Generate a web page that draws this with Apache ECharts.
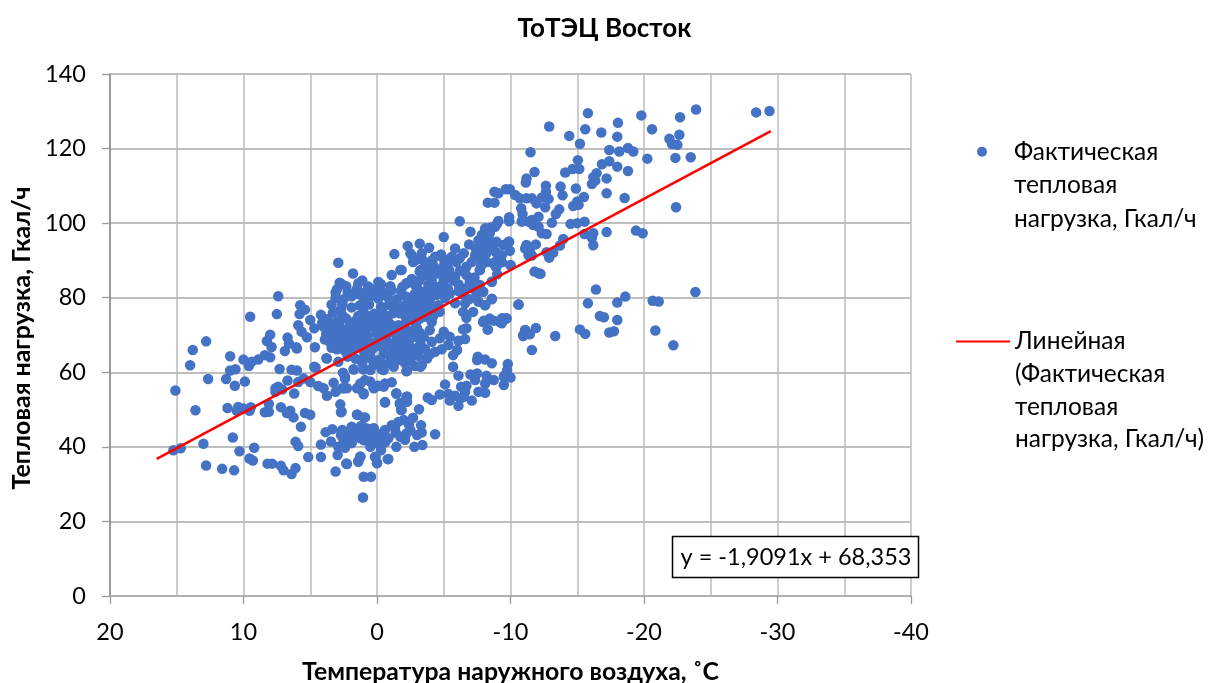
<!DOCTYPE html>
<html><head><meta charset="utf-8">
<script src="https://cdn.jsdelivr.net/npm/echarts@6/dist/echarts.min.js"></script>
<style>html,body{margin:0;padding:0;background:#fff}#c{width:1208px;height:683px}</style>
</head><body><div id="c"></div>
<script>
const chartTitle = 'ТоТЭЦ Восток';
const xAxisName = 'Температура наружного воздуха, ˚C';
const yAxisName = 'Тепловая нагрузка, Гкал/ч';
const seriesName = 'Фактическая\nтепловая\nнагрузка, Гкал/ч';
const trendName = 'Линейная\n(Фактическая\nтепловая\nнагрузка, Гкал/ч)';
const equation = 'y = -1,9091x + 68,353';
const trendPoints = [[16.5,36.8],[-29.5,124.7]];
const pointsWarm = [[7.4,80.4],[7.5,75.6],[9.5,74.9],[5.75,78],[5.4,76.8],[5.8,75.6],[4.2,75.4],[5,74],[5.9,72.6],[8,70.1],[8.25,68.4],[7.9,66.8],[6.7,69.3],[6.6,67.7],[6.9,65.7],[6,66.4],[12.8,68.3],[13.8,66],[14,61.9],[11,64.3],[10,63.4],[9.6,61.7],[9.4,62.8],[8.9,63.4],[8.4,64.6],[8,64],[11,60.5],[10.6,60.8],[7.3,60.9],[6.4,60.7],[6,60.5],[4.6,61.3],[3.75,63.7],[12.65,58.2],[11.3,58.2],[10.65,56.4],[9.9,57.5],[15.1,55.1],[13.6,49.8],[11.2,50.4],[10.4,50.7],[10.5,49.7],[10,50.3],[9.55,49.7],[9.45,50.6],[8.4,49.3],[8.1,51.5],[8.1,49.4],[7.6,55.7],[7.4,56.1],[7.6,54.8],[7.1,55.4],[6.7,57.8],[6.2,54.3],[5.9,57.4],[5.5,58.3],[5,57.4],[4.4,56.3],[4,55.7],[3.75,53.7],[3.25,57.2],[3.1,54.8],[2.55,59.9],[2.4,58.3],[2.6,55.7],[2.25,55.7],[1.75,60.75],[1,60.75],[0.5,60.75],[1,54.1],[1.4,55.9],[0.9,57.9],[0.1,56.1],[7.2,50.65],[6.5,49.7],[6.75,49.1],[6.25,47.9],[5.4,49.1],[5,48.6],[5.7,45.4],[2.75,51.4],[2.7,49.3],[1.5,48.7],[0.9,47.9],[3.85,43.95],[3.35,44.7],[3.45,41.45],[4.2,40.6],[6.1,41.4],[5.9,40.2],[10.8,42.5],[13,40.8],[15.25,39.1],[14.7,39.6],[9.2,39.75],[10.3,38.8],[9.55,36.9],[9.3,36.35],[12.8,35],[11.6,34.1],[10.7,33.7],[8.2,35.5],[7.85,35.5],[7.2,34.9],[7,33.7],[6.4,32.7],[6.1,34.3],[5.15,37.25],[4.2,37.3],[2.95,37.8],[2.3,35.55],[3.1,33.4],[1.4,36.2],[1.25,37.3],[1,32],[0.45,32],[1.05,26.4],[2.7,43.1],[2.6,44.5],[2.1,43.6],[1.75,42.7],[1.25,43.6],[0.75,44.9],[0.25,44.9],[2.9,40],[2.4,39.75],[1.9,41.4],[1,41.8],[0.5,40],[0.1,37.3],[0,35.7],[2.9,89.4],[1.8,86.5],[2.65,83.7],[3.1,81.4],[1.4,83.9],[0.65,83],[4.7,71.8],[5.65,70.9],[5.25,69.4],[6.05,66.7],[4.65,66.7],[3.8,63.75],[4.7,61.5]];
const pointsCluster = [[3,82.3],[2.2,81.6],[1.5,82.4],[0.8,81.7],[0.2,82.2],[-0.4,81.5],[-1.1,82],[-1.8,81.8],[3.1,80],[2.5,79.6],[1.9,80.4],[1,79.7],[0.5,80.3],[-0.1,79.8],[-0.8,80.2],[-1.5,79.6],[-2.4,78.6],[-3,79],[2.6,78.3],[1.3,77.9],[0.6,78.2],[-0.3,77.6],[-0.9,78.1],[-1.4,77.5],[-2.1,78],[-2.7,76.6],[-3.2,77.4],[3.3,76],[1,76.2],[0.2,75.7],[-0.4,76.3],[-1.2,75.8],[-2,75.6],[-2.9,75.4],[3.7,74.2],[3,73.6],[2.3,74.4],[1.6,73.8],[0.9,74.1],[0.3,73.5],[-0.3,74.3],[-0.8,73.7],[-1.6,72.6],[-2.2,74],[-2.9,73.2],[4,72.2],[3.5,71.6],[2.8,72.4],[2.1,71.8],[1.5,72.3],[0.8,71.6],[0.2,72],[-0.6,71.5],[-1.2,71.9],[-2.4,71.2],[3.8,70.2],[3.2,69.7],[2.6,70.3],[2,69.6],[1.3,70.1],[0.7,69.8],[0,70.2],[-0.7,69.6],[-1.5,70.1],[-2.7,69.8],[-3.2,70.6],[3.5,68],[2.9,68.4],[2.2,67.7],[1.5,66.9],[0.9,68.2],[0.3,67.8],[-0.3,68.3],[-1,67.4],[-2,67.9],[3,66.2],[2.4,65.7],[1.8,66.2],[1,65.8],[0.4,66.1],[-0.5,66.3],[-1.5,66.1],[-2.8,65.5],[2.2,64.2],[1.6,63.6],[0.5,64.4],[-0.1,63.2],[-1.1,86.1],[-1.75,87.4],[-1.3,91.7],[-2.5,91.9],[-2.9,90.1],[-3.25,87.4],[-2.2,83.9],[-0.3,83.6],[-1,83.1],[3.4,78.2],[4.1,73.3],[3.4,66.6],[2.9,62.8],[1.1,62.5],[0.2,62.1],[-1.85,68.6],[-1.5,69.5],[-1,67.7],[-0.5,68.2],[-4.1,68.2],[-2.75,66.4],[-2.35,65.95],[-3.25,67.7],[-4.35,65.5],[-4.85,66.2],[-5.35,67.3],[-6.1,68.45],[-6.6,68.9],[-6,66],[-5.7,64.6],[-1.25,65.05],[-0.5,65.05],[-1.75,65.05],[-1,64.15],[-1.6,63.3],[-0.25,63.3],[-1,62.4],[-2.5,63.2],[-3.75,63.7],[-2.85,61.7],[-3.35,61.9],[-0.5,60.6],[-1.25,61.5],[-2.2,60.3],[0.5,60.6],[-5.7,61.5]];
const pointsEast = [[-5,96.3],[-7,97.7],[-6.2,100.5],[-2.3,93.9],[-3.2,94.5],[-3.9,93.4],[-3.35,91.9],[-2.6,91.4],[-2.7,89.6],[-4.35,91],[-4.8,91.6],[-5.85,93.2],[-6.9,94.3],[-6.5,91.9],[-7.35,91.4],[-7.6,95.4],[-8.1,98.1],[-8.5,98.8],[-9,99.9],[-9.9,100.5],[-10.85,100.4],[-11.35,100.4],[-7.85,96.8],[-8.35,96.3],[-8.95,95],[-9.9,95],[-9.35,91.4],[-8.45,93.2],[-11.1,93.2],[-11.35,91.4],[-8.85,89.6],[-8.95,88.3],[-10,88.7],[-7.7,87.4],[-7.1,89.6],[-6.7,88.3],[-5.95,89.6],[-5.35,89.6],[-4.95,88.3],[-4.2,88.7],[-3.6,88.7],[-3.2,87],[-3.85,86.5],[-4.6,86.5],[-5.2,86.05],[-5.85,85.6],[-6.7,86.05],[-6.95,84.3],[-7.7,83.4],[-8.6,84.3],[-6.6,82.5],[-5.45,81.1],[-7.45,81.1],[-7.95,81.6],[-8.6,79.6],[-4.95,83.8],[-4.45,82.9],[-3.85,83.4],[-3.2,84.7],[-2.85,83.4],[-2.2,83.8],[-1.85,87.4],[-3.45,81.6],[-2.85,81.1],[-2.2,80.25],[-3.95,79.35],[-4.45,80.7],[-4.6,78],[-3.45,78.5],[-2.7,77.6],[-2.1,77.1],[-1.7,75.8],[-2.35,74.9],[-3.2,74.4],[-4.7,76.2],[-5.85,78.5],[-6.6,78.5],[-6.45,76.2],[-7.2,76.2],[-6.7,74.6],[-8.1,78],[-10.6,78.2],[-7.95,73.5],[-8.45,74.4],[-9.2,73.5],[-9.7,74.4],[-9.35,74.4],[-8.3,71.5],[-4.1,73.5],[-3.95,71.3],[-6.45,71.5],[-6.7,71.8],[-5,70.9],[-2.8,69.5],[-3.5,69.5],[-4.7,69.1],[-5.45,69.5],[-11.1,71.3],[-10.95,70]];
const pointsLower = [[-7.55,64.15],[-8.1,63.45],[-8.6,62.4],[-7.5,63.3],[-9.8,62.2],[-9.75,60.6],[-9.6,59.25],[-10,58.6],[-9.5,58.8],[-9.5,56.6],[-8.75,57.9],[-8.1,57],[-6.1,59.1],[-7,59.4],[-7.5,59.7],[-8.2,59.1],[-7.35,57.9],[-5.1,56.75],[-6.7,56.4],[-6.3,56.1],[-7.6,54.8],[-8.1,54.5],[-6.6,54.8],[-6.5,53.4],[-7.1,52.4],[-6.1,51],[-6.25,53],[-5.85,53.7],[-5.35,54.15],[-5.45,52.4],[-4.7,54.05],[-3.8,53.25],[-4.1,52.55],[-1.1,57.3],[-0.6,57],[-0.1,56.4],[0.25,56.1],[-1.45,54.25],[-2.2,53.4],[-0.6,51.9],[-1.7,51.65],[-2.1,52.1],[-3.15,50.1],[-1.8,49.9],[-2.7,47.8],[-2,47.2],[-1.6,46.7],[-1.1,45.8],[-0.6,44.5],[-1.35,45],[-2.5,44.5],[-3.3,45.8],[-3.35,43.85],[-3,43.2],[-4.35,43.4],[-0.85,42.3],[-1.75,42.7],[-0.35,43.6],[0.5,42.7],[0.25,45],[0.15,41.4],[-1.45,40],[-2.8,40],[-3.4,40.5],[-0.3,39.1],[0.15,37.35],[-0.8,36.7],[0,35.6],[2.65,44.1],[2,43.2],[1.5,44.1],[0.9,45],[0.65,42.75],[1.25,42.3],[1.9,41],[2.5,41.85],[-0.2,40.5],[1.25,37.4],[1.4,36],[2.25,35.4],[-0.85,36.75],[1.45,48.55],[0.95,47.9],[-0.6,52],[2.65,49.5],[-1.45,54.4],[-1.75,51.7],[-2.25,53.5],[-2.25,52.1],[-1.85,49.9],[2.5,55.7],[2.4,58.8],[1.25,57],[0.5,57.5],[1,54.4],[1.5,55.7],[0.25,55.7],[-0.5,56.15],[-2.25,60.4],[-3.25,61.5],[1.75,60.8],[-0.35,60.8]];
const pointsCold = [[-15.8,129.5],[-12.9,125.9],[-14.4,123.4],[-15.6,125.2],[-15.2,121.3],[-16.8,124.3],[-18.05,126.9],[-18,123.2],[-19.8,128.9],[-20.6,125.2],[-22.7,128.4],[-23.9,130.5],[-28.4,129.7],[-29.4,130.1],[-22.65,123.7],[-21.9,122.65],[-22.1,121.2],[-22.5,121],[-11.5,119],[-17.4,119.6],[-18.15,119.2],[-18.8,120.15],[-19.2,119.2],[-20.25,117.3],[-22.35,117.5],[-23.5,117.65],[-15.05,116.9],[-16.85,115.8],[-17.4,116.6],[-18,115.15],[-18.8,114],[-11.8,113.7],[-14.1,113.6],[-14.65,114.5],[-15.15,114.5],[-16.45,113.4],[-16.2,112.3],[-11.2,112],[-11.15,110.9],[-17.2,112],[-16.1,110.5],[-16.35,111.4],[-12.65,110],[-13.75,109.8],[-14.9,109.3],[-12.65,108.4],[-9.65,109.1],[-9.95,109.1],[-8.8,108.4],[-9.1,108],[-10.35,107.55],[-10.7,106.65],[-11.2,106.65],[-11.6,106.65],[-11.95,105.3],[-12.35,106.9],[-12.85,106.5],[-13.9,107.45],[-15.5,107],[-17.2,108],[-18.55,106.75],[-8.3,105.5],[-8.8,105.5],[-12.6,104.25],[-14.7,104.6],[-15,105.8],[-15.1,104.9],[-22.4,104.25],[-10.8,104],[-10.9,102.45],[-13.65,103.7],[-13.4,102.45],[-9.9,101.6],[-9.9,100.7],[-9.1,100.6],[-10.85,100.6],[-11.6,100.85],[-12.1,101.7],[-13.1,100.1],[-14.5,99.8],[-15,100],[-15.55,100.4],[-11.7,99.5],[-12.1,99.05],[-12.35,97.3],[-12.7,97.1],[-8.85,99.05],[-8.1,98.6],[-8.45,97.3],[-15.55,97.1],[-16.2,97.3],[-17.2,97.6],[-19.4,98],[-19.9,97.3],[-16.1,96.1],[-16.2,94.05],[-13.95,95.75],[-13.7,94],[-9.85,95],[-11.2,94.15],[-11.9,94.3],[-9.95,92.6],[-9.45,94.15],[-8.85,94.6],[-11.45,92.6],[-11.6,91.3],[-12.7,92.2],[-13.2,92.1],[-12.9,90.75],[-9.25,91.2],[-8.7,89.2],[-9.35,89.5],[-8.9,88.3],[-10,88.8],[-11.8,87],[-12.1,86.55],[-12.25,86.4],[-8.6,84.3],[-7.7,87.4],[-8.2,91.9],[-7.85,93.7],[-7.95,81.6],[-8.6,79.7],[-16.4,82.2],[-18.6,80.3],[-18,78.7],[-15.8,78.5],[-10.6,78.15],[-8.1,78.05],[-20.65,79.2],[-21.1,79],[-23.85,81.55],[-16.7,75.1],[-17,74.75],[-18,74],[-9.4,74.5],[-9.7,74.5],[-9.35,73.15],[-8.75,73.85],[-8.4,74.2],[-8,73.8],[-8.3,71.45],[-11.9,71.9],[-11.1,71.35],[-10.95,69.75],[-11.45,70.2],[-13.35,69.75],[-11.6,66],[-15.2,71.5],[-15.6,70.3],[-17.4,70.65],[-17.75,71],[-20.85,71.2],[-22.2,67.25]];
const pointsFill = [[2.8,84],[1.1,84.6],[-0.1,84.2],[2.3,83.1],[0.3,80.9],[1.4,81],[2.7,76.9],[1.9,77.4],[1.4,75.1],[0.6,75],[-0.8,75],[-1.9,76.8],[3.6,73.1],[2.6,75.3],[2,73],[1,72.9],[-0.2,72.7],[-1,72.9],[-2,72.6],[-3,71.8],[3.1,71],[2.4,71],[1.7,70.9],[1,71],[-0.2,70.9],[-1,70.8],[-2,70.6],[3.9,68.8],[3.2,67.5],[2.4,69],[1.7,68.5],[1.1,69],[-0.4,69.2],[-1.6,68],[-2.4,68.5],[2.7,66.9],[2.1,66.4],[1.3,67.2],[0.1,66.9],[-0.8,66.9],[-1.9,66.7],[-2.3,69.8],[-3.6,66.2],[-3,65.5],[-4,64.9],[-2.1,62.4],[-1.9,63.8],[-2.4,64.8],[-3.1,64.4],[-0.5,62],[0.4,63.5],[1,64],[-2.4,79.9],[-1.9,82.9],[-3,82.6],[-4,81.8],[-3.6,80.2],[-2.9,80.2],[-4.1,84.8],[-5,85],[-5.3,82.4],[-6.1,83.6],[-4.9,81.9],[-5.1,79.9],[-4,77.3],[-3.6,76.6],[-3,75.9],[-4.2,75],[-3.7,74.9],[-2.6,85],[-3.5,85.9],[-4.3,87.7],[-5.4,87.5],[-6.2,87.2],[-5.7,84.6],[-7.3,85.4],[-7.2,82.6],[-6.4,80.9],[-6.9,79.6],[-7.6,78.9],[-6.2,90.6],[-5,90.3],[-5.6,91],[-4.1,90],[-3.4,90.2],[-7.8,90.2],[-8.2,89.6],[-7.9,92.6],[-7.4,93.2],[-8.9,92.2],[-8.2,94.6],[-7.8,88.6],[-9,86.3],[-6.1,81.8],[1.9,45.4],[1.2,45.6],[0.2,43.2],[-0.1,42.1],[0.9,41.8],[-0.6,41.2],[-2.2,43.6],[-2.1,41.9],[-1.4,43.8],[-2.4,45.9]];
const actualLoad = [].concat(pointsWarm, pointsCluster, pointsFill, pointsEast, pointsLower, pointsCold);

const FONT = 'Lato, "Noto Sans", sans-serif';
const chart = echarts.init(document.getElementById('c'), null, {renderer:'canvas'});
chart.setOption({
  animation:false,
  backgroundColor:'#fff',
  textStyle:{fontFamily:FONT},
  title:{text:chartTitle,left:599.5,top:11,textAlign:'center',textStyle:{fontFamily:FONT,fontSize:26,fontWeight:'bold',color:'#000'}},
  grid:{left:110,right:297,top:74,bottom:87,outerBoundsMode:'none',containLabel:false},
  xAxis:{type:'value',inverse:true,min:-40,max:20,interval:10,
    name:xAxisName,nameLocation:'middle',nameGap:64,
    nameTextStyle:{fontFamily:FONT,fontSize:24.8,fontWeight:'bold',color:'#000'},
    axisLine:{show:true,onZero:false,lineStyle:{color:'#aaaaaa',width:1.5}},
    axisTick:{show:true,length:8,lineStyle:{color:'#9a9a9a',width:1.3}},
    minorTick:{show:false,splitNumber:2},
    axisLabel:{fontFamily:FONT,fontSize:23.5,color:'#000',margin:24},
    splitLine:{show:true,lineStyle:{color:'#bcbcbc',width:1.5}},
    minorSplitLine:{show:true,lineStyle:{color:'#bcbcbc',width:1.5}}},
  yAxis:{type:'value',min:0,max:140,interval:20,position:'left',
    name:yAxisName,nameLocation:'middle',nameGap:75,
    nameTextStyle:{fontFamily:FONT,fontSize:25,fontWeight:'bold',color:'#000',padding:[0,6,0,0]},
    axisLine:{show:true,onZero:false,lineStyle:{color:'#8a8a8a',width:1.5}},
    axisTick:{show:true,length:8,lineStyle:{color:'#9a9a9a',width:1.3}},
    axisLabel:{fontFamily:FONT,fontSize:23.5,color:'#000',margin:24},
    splitLine:{show:true,lineStyle:{color:'#a8a8a8',width:1.5}}},
  legend:[
    {data:[seriesName],left:977,top:68,padding:0,itemWidth:54,itemHeight:10,itemGap:0,icon:'circle',
     formatter:n=>'\n\n'+n,selectedMode:false,
     textStyle:{fontFamily:FONT,fontSize:24.5,color:'#000',lineHeight:33.5}},
    {data:[{name:trendName,itemStyle:{opacity:0}}],left:955,top:227,padding:0,itemWidth:54,itemHeight:10,itemGap:0,
     formatter:n=>'\n\n\n'+n,selectedMode:false,
     textStyle:{fontFamily:FONT,fontSize:24.5,color:'#000',lineHeight:32.7}}
  ],
  series:[
    {name:seriesName,type:'scatter',data:actualLoad,symbol:'circle',symbolSize:10.5,
     itemStyle:{color:'#4472c4',opacity:1},silent:true},
    {name:trendName,type:'line',data:trendPoints,symbol:'none',
     lineStyle:{color:'#ff0000',width:2.5},itemStyle:{color:'#ff0000'},silent:true}
  ],
  graphic:[{type:'group',children:[
    {type:'rect',shape:{x:672.5,y:536.5,width:246,height:41},style:{fill:'#fff',stroke:'#000',lineWidth:1.5},z:50},
    {type:'text',x:796,y:557.5,z:51,style:{text:equation,fill:'#000',align:'center',verticalAlign:'middle',font:'23.5px '+FONT}}
  ]}]
});
</script></body></html>
